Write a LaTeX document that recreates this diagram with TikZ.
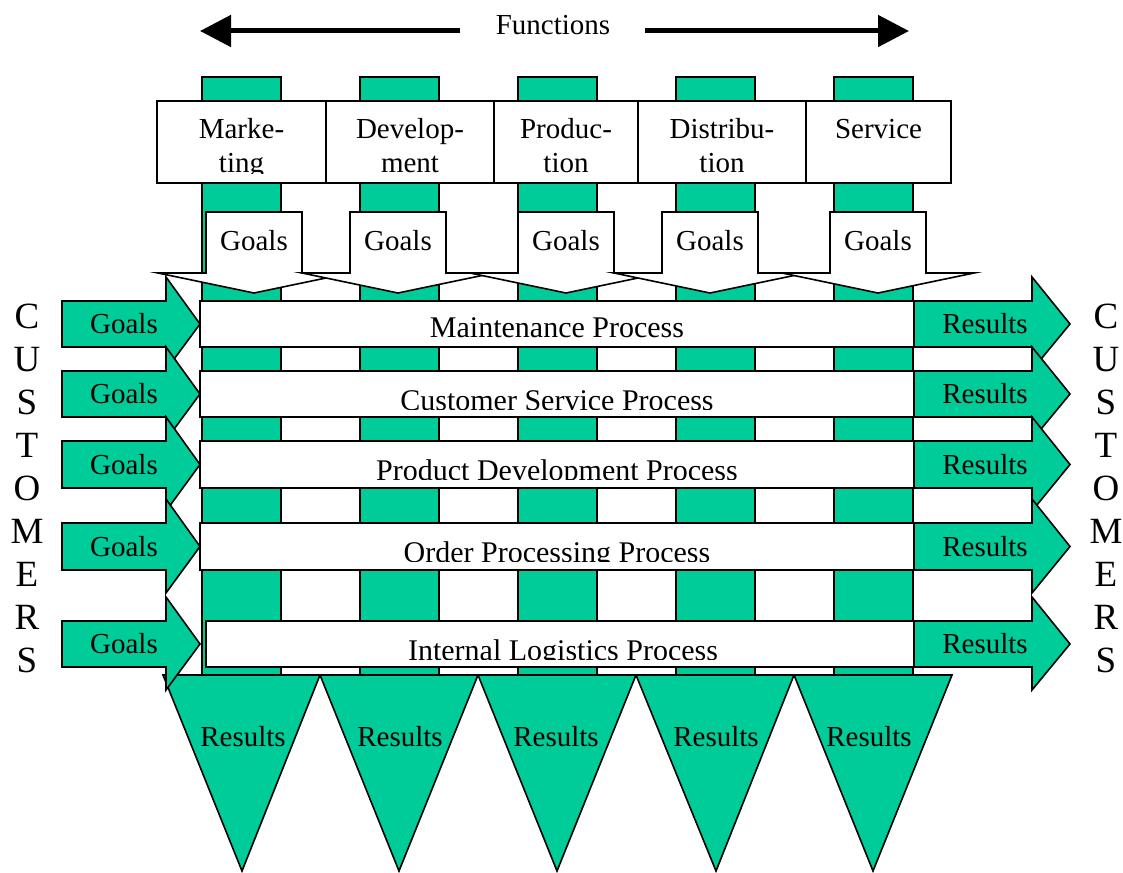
\documentclass[tikz,border=0pt]{standalone}
\usepackage{fontspec}
\setmainfont{Liberation Serif}
\usetikzlibrary{arrows.meta}
\definecolor{fngreen}{RGB}{0,204,153}
\begin{document}
\begin{tikzpicture}[x=0.5pt,y=-0.5pt,
  outl/.style={draw=black,line width=0.8pt,line join=miter},
  greenshape/.style={outl,fill=fngreen},
  whiteshape/.style={outl,fill=white},
  lbl/.style={inner sep=0pt,font=\fontsize{14.5}{17}\selectfont},
  plbl/.style={inner sep=0pt,font=\fontsize{15}{18}\selectfont,anchor=base},
  cust/.style={inner sep=0pt,font=\fontsize{18.5}{22}\selectfont,anchor=base},
  bigarrow/.style={line width=2.5pt,-{Triangle[length=15.5pt,width=15.5pt]}},
]
\useasboundingbox (0,0) rectangle (1123,872);

% Functions header with its double arrow
\node[lbl] (fn) at (553,25) {Functions};
\coordinate (fl0) at (460,31);
\coordinate (fl1) at (200,31);
\coordinate (fr0) at (645,31);
\coordinate (fr1) at (909,31);
\draw[bigarrow] (fl0) -- (fl1);
\draw[bigarrow] (fr0) -- (fr1);

% function columns
\foreach \x in {202,360,518,676,834}
  \draw[greenshape] (\x,77) rectangle ++(79,598);

% results of the functions (downward triangles)
\foreach \l/\r/\t/\c [count=\i] in {163/320/242/243, 320/478/399/400, 478/636/557/556, 636/794/716/716, 794/952/873/869}{
  \draw[greenshape] (\l,675) -- (\r,675) -- (\t,871) -- cycle;
  \node[lbl] (res\i) at (\c,737) {Results};
}

% process bars
\foreach \tp/\bt/\xl/\xc/\bl/\txt [count=\i] in {
    301/347/200/557/337.5/Maintenance Process,
    371/417/200/557/410/Customer Service Process,
    441/488/200/557/480/Product Development Process,
    523/570/200/557/562/Order Processing Process,
    621/667/206/563/660/Internal Logistics Process}{
  \draw[whiteshape] (\xl,\tp) rectangle (914,\bt);
  \begin{scope}
    \clip (\xl,\tp) rectangle (914,{\tp+38});
    \node[plbl] (proc\i) at (\xc,\bl) {\txt};
  \end{scope}
}

% customer goals (left) and results (right)
\foreach \tp/\bt [count=\i] in {301/347, 371/417, 441/488, 523/570, 621/667}{
  \draw[greenshape] (62,\tp) -- (166,\tp) -- (166,{\tp-24}) -- (200,{(\tp+\bt)/2})
     -- (166,{\bt+23}) -- (166,\bt) -- (62,\bt) -- cycle;
  \node[lbl] (gl\i) at (124,{(\tp+\bt)/2}) {Goals};
}
\foreach \tp/\bt [count=\i] in {301/347, 371/417, 441/488, 523/570, 621/667}{
  \draw[greenshape] (914,\tp) -- (1032,\tp) -- (1032,{\tp-24}) -- (1070,{(\tp+\bt)/2})
     -- (1032,{\bt+23}) -- (1032,\bt) -- (914,\bt) -- cycle;
  \node[lbl] (gr\i) at (985,{(\tp+\bt)/2}) {Results};
}

% goals of the functions (downward white arrows)
\foreach \c [count=\i] in {254,398,566,710,878}{
  \draw[whiteshape] ({\c-48},212) -- ({\c+48},212) -- ({\c+48},273) -- ({\c+96},273)
     -- (\c,293) -- ({\c-96},273) -- ({\c-48},273) -- cycle;
  \node[lbl] (gt\i) at (\c,241) {Goals};
}

% function boxes
\foreach \l/\r/\a/\b [count=\i] in {157/326/Marke-/ting, 326/494/Develop-/ment, 494/638/Produc-/tion, 638/806/Distribu-/tion}{
  \draw[whiteshape] (\l,101) rectangle (\r,183);
  \begin{scope}
    \clip (\l,101) rectangle (\r,173.5);
    \node[lbl,anchor=base] (fa\i) at ({(\l+\r)/2},139) {\a};
    \node[lbl,anchor=base] (fb\i) at ({(\l+\r)/2},172) {\b};
  \end{scope}
}
\draw[whiteshape] (806,101) rectangle (951,183);
\node[lbl,anchor=base] (fa5) at (878.5,139) {Service};

% CUSTOMERS, spelled vertically on both sides
\foreach \ch [count=\i] in {C,U,S,T,O,M,E,R,S}{
  \node[cust] (cl\i) at (27,{328.5+43*(\i-1)}) {\ch};
  \node[cust] (cr\i) at (1106,{328.5+43*(\i-1)}) {\ch};
}
\end{tikzpicture}
\end{document}
